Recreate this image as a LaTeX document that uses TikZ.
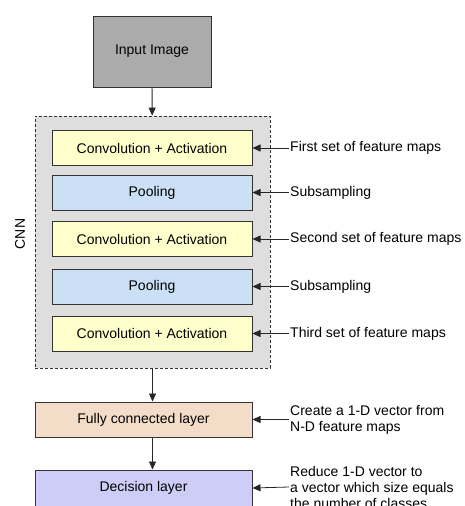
\documentclass[tikz,border=0pt]{standalone}
\usepackage{fontspec}
\setmainfont{Liberation Sans}
\usepackage{xcolor}
\usepackage{tikz}
\usetikzlibrary{arrows.meta}

\definecolor{inputgray}{HTML}{ABABAB}
\definecolor{cnngray}{HTML}{DEDEDE}
\definecolor{convyellow}{HTML}{FFFFCC}
\definecolor{poolblue}{HTML}{CBE0F4}
\definecolor{fcpeach}{HTML}{F3DDC9}
\definecolor{declilac}{HTML}{CDCDF7}

\begin{document}
\begin{tikzpicture}[x=1pt,y=-1pt,
    box/.style={draw=black!80, line width=1pt, inner sep=0pt, minimum height=35pt,
      font=\fontsize{14}{16}\selectfont},
    convbox/.style={box, fill=convyellow, minimum width=200pt},
    poolbox/.style={box, fill=poolblue, minimum width=200pt},
    note/.style={anchor=west, align=left, inner sep=1pt, font=\fontsize{14}{16}\selectfont},
    arr/.style={-{Triangle[length=8pt,width=7pt]}, line width=0.8pt, black!85}]
    \useasboundingbox (0,0) rectangle (464,506);

    \node [draw=black!80, dashed, dash pattern=on 3pt off 2pt, line width=0.8pt, fill=cnngray,
      minimum width=235pt, minimum height=252pt, inner sep=0pt] (cnn) at (152.5,242) {};
    \node [rotate=90, font=\fontsize{14}{16}\selectfont] (cnnlabel) at (20,234) {CNN};

    \node [box, fill=inputgray, minimum width=118pt, minimum height=71pt] (input) at (152,51.5) {Input Image};

    \node [convbox] (conv1) at (152,148) {Convolution + Activation};
    \node [poolbox] (pool1) at (152,192.5) {Pooling};
    \node [convbox] (conv2) at (152,239) {Convolution + Activation};
    \node [poolbox] (pool2) at (152,286.5) {Pooling};
    \node [convbox] (conv3) at (152,333.5) {Convolution + Activation};

    \node [box, fill=fcpeach, minimum width=217pt] (fc) at (143.5,419.5) {Fully connected layer};
    \node [box, fill=declilac, minimum width=217pt, minimum height=36pt] (dec) at (143.5,488) {Decision layer};

    % notes on the right
    \node [note] (n1) at (289,148) {First set of feature maps};
    \node [note] (n2) at (289,192.5) {Subsampling};
    \node [note] (n3) at (289,239) {Second set of feature maps};
    \node [note] (n4) at (289,286.5) {Subsampling};
    \node [note] (n5) at (289,333.5) {Third set of feature maps};
    \node [note] (n6) at (289,419.5) {Create a 1-D vector from\\N-D feature maps};
    \node [note] (n7) at (289,487) {Reduce 1-D vector to\\a vector which size equals\\the number of classes};

    \draw [arr] (input) -- (cnn);
    \draw [arr] (cnn.south) -- (cnn.south |- fc.north);
    \draw [arr] (cnn.south |- fc.south) -- (cnn.south |- dec.north);

    \foreach \n/\b in {n1/conv1, n2/pool1, n3/conv2, n4/pool2, n5/conv3, n6/fc, n7/dec}
      \draw [arr] (\n.west) -- (\b.east);
\end{tikzpicture}
\end{document}
